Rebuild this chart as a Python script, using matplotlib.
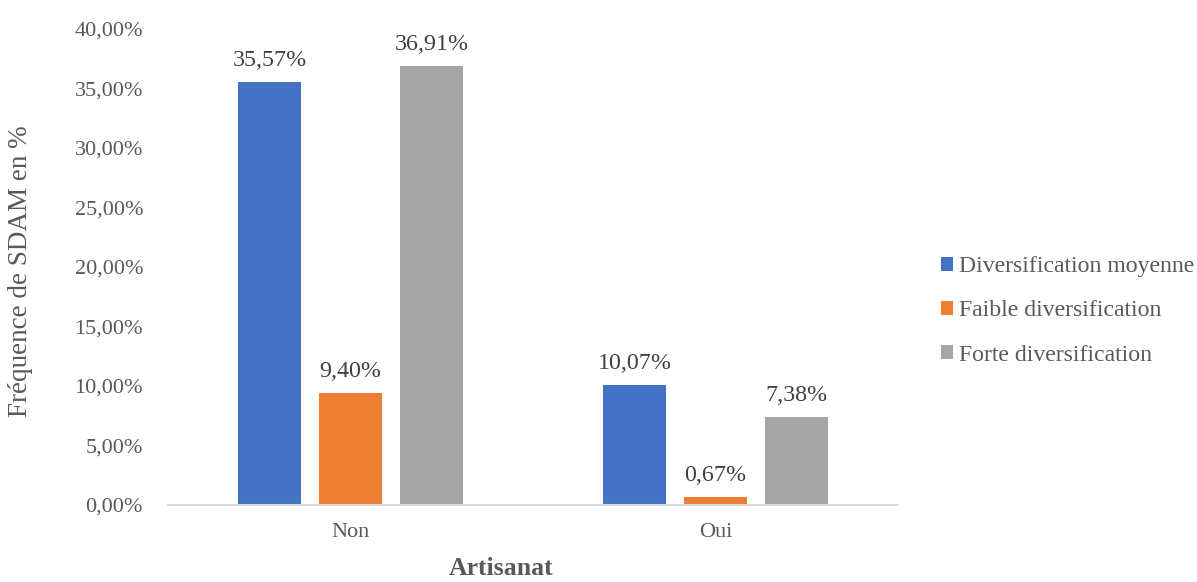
import matplotlib
matplotlib.use("Agg")
import matplotlib.pyplot as plt
import numpy as np

categories = ["Non", "Oui"]
series_names = ["Diversification moyenne", "Faible diversification", "Forte diversification"]
moyenne = [35.57, 10.07]
faible = [9.40, 0.67]
forte = [36.91, 7.38]
colors = ["#4472C4", "#ED7D31", "#A5A5A5"]
yticks = [0, 5, 10, 15, 20, 25, 30, 35, 40]

plt.rcParams['font.family'] = ['Liberation Serif', 'DejaVu Serif']
txt = "#595959"

W, H = 1197, 582
fig = plt.figure(figsize=(W/100, H/100), dpi=100)
ax = fig.add_axes([168/W, 1-505/H, 730/W, (505-29)/H])

x = np.arange(len(categories))
offset = 0.222
width = 0.175
for i, (vals, name, c) in enumerate(zip([moyenne, faible, forte], series_names, colors)):
    bars = ax.bar(x + (i-1)*offset, vals, width, color=c, label=name)
    for b, v in zip(bars, vals):
        ax.annotate(f"{v:.2f}%".replace(".", ","), (b.get_x()+b.get_width()/2, v),
                    xytext=(0, 8), textcoords="offset points", ha="center", va="bottom",
                    fontsize=17.3, color="#404040")

ax.set_xlim(-0.5, 1.5)
ax.set_ylim(0, 40)
ax.set_yticks(yticks)
ax.set_yticklabels([f"{t:.2f}%".replace(".", ",") for t in yticks])
ax.set_xticks(x)
ax.set_xticklabels(categories)
ax.tick_params(axis='y', length=0, pad=18, labelsize=16, labelcolor=txt)
ax.tick_params(axis='x', length=0, pad=13, labelsize=16, labelcolor=txt)
for s in ["top", "right", "left"]:
    ax.spines[s].set_visible(False)
ax.spines["bottom"].set_color("#D9D9D9")
ax.spines["bottom"].set_linewidth(1.5)

fig.text(21/W, 1-271/H, "Fréquence de SDAM en %", rotation=90, ha="center", va="center",
         fontsize=19.5, color=txt)
fig.text(501/W, 1-580/H, "Artisanat", ha="center", va="bottom", fontsize=18.5,
         fontweight="bold", color=txt)

leg = ax.legend(loc="center left", bbox_to_anchor=(941/W, 1-311/H), bbox_transform=fig.transFigure,
                frameon=False, fontsize=17.1, handlelength=0.5, handleheight=0.5,
                handletextpad=0.25, labelspacing=0.97, borderaxespad=0, borderpad=0)
for t in leg.get_texts():
    t.set_color(txt)

fig.savefig("out.png", dpi=100)
